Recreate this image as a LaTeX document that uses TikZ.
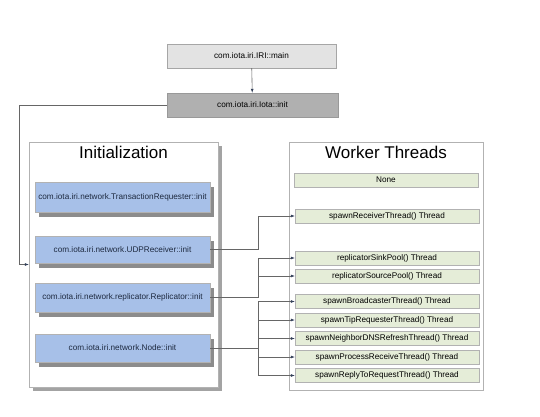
\documentclass[tikz,border=0pt]{standalone}
\usepackage{fontspec}
\setmainfont{Liberation Sans}
\usetikzlibrary{arrows.meta,calc}
\definecolor{bluefill}{HTML}{A7C0E8}
\definecolor{greenfill}{HTML}{E5EDD8}
\definecolor{shadowgray}{HTML}{8C8C8C}
\definecolor{linegray}{HTML}{666666}
\definecolor{tipcol}{HTML}{33405A}
\definecolor{bluetext}{HTML}{1E2A40}
\tikzset{
  topbox/.style={draw=gray!70, fill=gray!22, minimum width=169pt, minimum height=24pt, font=\fontsize{8.2}{9}\selectfont, inner sep=0pt},
  iotabox/.style={draw=gray!80, fill=gray!62, minimum width=171pt, minimum height=24pt, font=\fontsize{8.2}{9}\selectfont, inner sep=0pt},
  groupbox/.style={draw=gray!60, fill=white, inner sep=0pt},
  grouptitle/.style={font=\fontsize{17}{19}\selectfont, inner sep=0pt},
  initbox/.style={draw=gray!60, fill=bluefill, minimum width=175pt, font=\fontsize{8.2}{9}\selectfont, text=bluetext, inner sep=0pt},
  thrbox/.style={draw=gray!60, fill=greenfill, minimum width=184pt, minimum height=14pt, font=\fontsize{8.2}{9}\selectfont, inner sep=0pt},
  conn/.style={draw=linegray, line width=0.6pt, -{Latex[length=4pt,width=3pt,color=tipcol]}},
}
\begin{document}
\begin{tikzpicture}[x=1pt,y=-1pt]
\useasboundingbox (0,0) rectangle (540,417);
% top boxes
\node[topbox] (main) at (251.5,56) {com.iota.iri.IRI::main};
\node[iotabox] (iota) at (252.5,105) {com.iota.iri.Iota::init};
% initialization group
\fill[shadowgray!80] (33,146) rectangle (222,391);
\node[groupbox, minimum width=189pt, minimum height=245pt] (initgrp) at (123.5,264.5) {};
\node[grouptitle] (inittitle) at (123.5,152) {Initialization};
% worker group
\node[groupbox, minimum width=194pt, minimum height=248pt] (workgrp) at (386,266) {};
\node[grouptitle] (worktitle) at (386,152) {Worker Threads};
% blue boxes with shadows
\foreach \y/\h in {197/30, 249.5/27, 297.5/29, 348/28}{
  \fill[shadowgray] (39,\y-\h/2+5) rectangle (214,\y+\h/2+5);
}
\node[initbox, minimum height=30pt] (tr) at (122.5,197) {com.iota.iri.network.TransactionRequester::init};
\node[initbox, minimum height=27pt] (udp) at (122.5,249.5) {com.iota.iri.network.UDPReceiver::init};
\node[initbox, minimum height=29pt] (rep) at (122.5,297.5) {com.iota.iri.network.replicator.Replicator::init};
\node[initbox, minimum height=28pt] (nd) at (122.5,348) {com.iota.iri.network.Node::init};
% thread boxes
\node[thrbox] (none) at (386,180) {None};
\node[thrbox] (rcv) at (387,216) {spawnReceiverThread() Thread};
\node[thrbox] (sink) at (387,258) {replicatorSinkPool() Thread};
\node[thrbox] (src) at (387,276) {replicatorSourcePool() Thread};
\node[thrbox] (bc) at (387,301.5) {spawnBroadcasterThread() Thread};
\node[thrbox] (tip) at (387,320) {spawnTipRequesterThread() Thread};
\node[thrbox] (dns) at (387,338.5) {spawnNeighborDNSRefreshThread() Thread};
\node[thrbox] (prc) at (387,357) {spawnProcessReceiveThread() Thread};
\node[thrbox] (rep2) at (387,375.5) {spawnReplyToRequestThread() Thread};
% connectors
\coordinate (lx) at (19,0);
\coordinate (jx) at (258.5,0);
\draw[conn] (main) -- (iota);
\draw[conn] (iota.west) -- (iota.west -| lx) |- (initgrp.west);
\draw[conn] (udp.east) -- (udp.east -| jx) |- (rcv.west);
\draw[conn] (rep.east) -- (rep.east -| jx) |- (sink.west);
\draw[conn] (rep.east -| jx) |- (src.west);
\draw[conn] (nd.east) -- (nd.east -| jx) |- (bc.west);
\draw[conn] (nd.east -| jx) |- (tip.west);
\draw[conn] (nd.east -| jx) -- (dns.west -| jx) -- (dns.west);
\draw[conn] (nd.east -| jx) |- (prc.west);
\draw[conn] (nd.east -| jx) |- (rep2.west);
\end{tikzpicture}
\end{document}
